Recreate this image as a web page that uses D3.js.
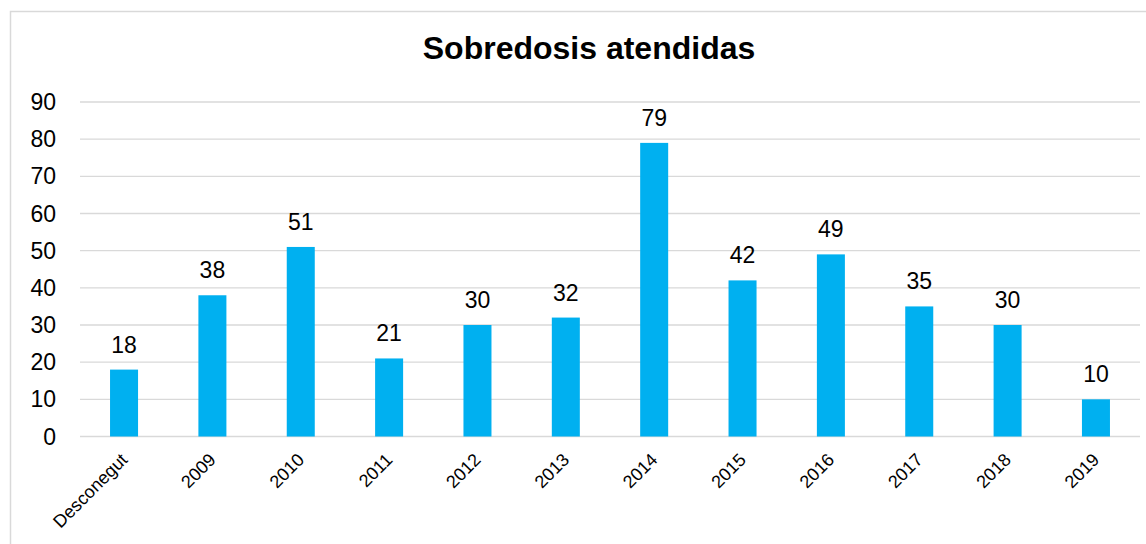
<!DOCTYPE html>
<html>
<head>
<meta charset="utf-8">
<script src="https://cdn.jsdelivr.net/npm/d3@7"></script>
<style>
  body { margin: 0; background: #fff; }
  svg { display: block; font-family: "Liberation Sans", Arial, sans-serif; }
</style>
</head>
<body>
<script>
const categories = ["Desconegut", "2009", "2010", "2011", "2012", "2013", "2014", "2015", "2016", "2017", "2018", "2019"]
const values = [18, 38, 51, 21, 30, 32, 79, 42, 49, 35, 30, 10]
const yTicks = [0, 10, 20, 30, 40, 50, 60, 70, 80, 90]
const chartTitle = "Sobredosis atendidas"

const width = 1146, height = 544
const margin = {left: 80, right: 6, top: 102, bottom: 107.5}

const svg = d3.select("body").append("svg")
    .attr("width", width)
    .attr("height", height)

// outer frame, runs off the right and bottom edge
svg.append("rect")
    .attr("x", 10.5).attr("y", 11.5)
    .attr("width", 1300).attr("height", 700)
    .attr("fill", "none")
    .attr("stroke", "#d9d9d9")
    .attr("stroke-width", 1.5)

const x = d3.scaleBand()
    .domain(categories)
    .range([margin.left, width - margin.right])
    .paddingInner(0.683)
    .paddingOuter(0.34)

const y = d3.scaleLinear()
    .domain([0, 90])
    .range([height - margin.bottom, margin.top])

// gridlines
svg.append("g")
    .selectAll("line")
    .data(yTicks)
    .join("line")
    .attr("x1", margin.left)
    .attr("x2", width - margin.right)
    .attr("y1", d => y(d))
    .attr("y2", d => y(d))
    .attr("stroke", "#d9d9d9")
    .attr("stroke-width", 1.3)

// y tick labels
svg.append("g")
    .selectAll("text")
    .data(yTicks)
    .join("text")
    .attr("x", 56)
    .attr("y", d => y(d) + 8)
    .attr("text-anchor", "end")
    .style("font-size", "23px")
    .attr("fill", "#000")
    .text(d => d)

// bars
svg.append("g")
    .selectAll("rect")
    .data(values)
    .join("rect")
    .attr("x", (d, i) => x(categories[i]))
    .attr("y", d => y(d))
    .attr("width", x.bandwidth())
    .attr("height", d => y(0) - y(d))
    .attr("fill", "#00b0f0")

// value labels
svg.append("g")
    .selectAll("text")
    .data(values)
    .join("text")
    .attr("x", (d, i) => x(categories[i]) + x.bandwidth() / 2)
    .attr("y", d => y(d) - 17)
    .attr("text-anchor", "middle")
    .style("font-size", "23px")
    .attr("fill", "#000")
    .text(d => d)

// x labels, rotated
svg.append("g")
    .selectAll("text")
    .data(categories)
    .join("text")
    .attr("transform", d => `translate(${x(d) + x.bandwidth() / 2},${y(0) + 20}) rotate(-45)`)
    .attr("text-anchor", "end")
    .attr("dy", "0.35em")
    .style("font-size", "18px")
    .attr("fill", "#000")
    .text(d => d)

// title
svg.append("text")
    .attr("x", 589)
    .attr("y", 59)
    .attr("text-anchor", "middle")
    .style("font-size", "32px")
    .style("font-weight", "bold")
    .attr("fill", "#000")
    .text(chartTitle)
</script>
</body>
</html>
